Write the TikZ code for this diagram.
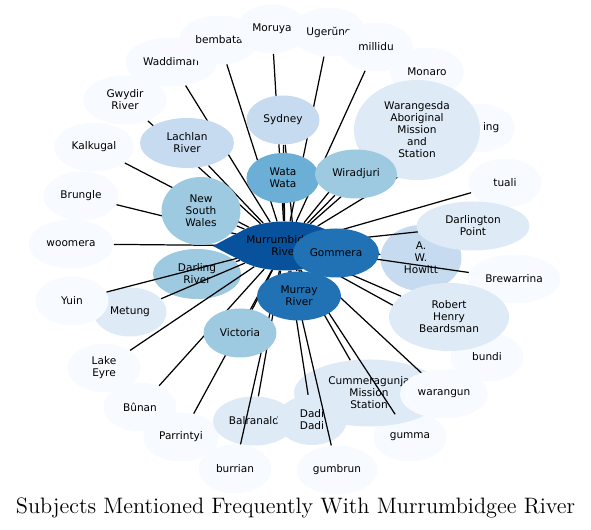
\documentclass[tikz,border=0pt]{standalone}
\usepackage{fontspec}
\usetikzlibrary{shapes.geometric}
\newfontfamily\vfont{DejaVu Sans}
\definecolor{b0}{HTML}{F7FBFF}
\definecolor{b1}{HTML}{DEEBF7}
\definecolor{b2}{HTML}{C6DBEF}
\definecolor{b3}{HTML}{9ECAE1}
\definecolor{b4}{HTML}{6BAED6}
\definecolor{b5}{HTML}{2171B5}
\definecolor{b6}{HTML}{08519C}
\pgfdeclarelayer{front}
\pgfsetlayers{main,front}
\tikzset{
  vx/.style={ellipse,fill=#1,inner sep=0pt,align=center,font=\vfont\fontsize{6}{6.85}\selectfont},
  sz/.style 2 args={minimum width=#1cm,minimum height=#2cm},
  link/.style={line width=0.7pt}
}

\begin{document}
\begin{tikzpicture}
\useasboundingbox (0,0) rectangle (11.820,10.600);
\node[vx=b0,sz={1.840}{0.980}] (waddiman) at (3.420,9.360) {Waddiman};
\node[vx=b0,sz={1.600}{0.980}] (bembata) at (4.380,9.800) {bembata};
\node[vx=b0,sz={1.480}{0.980}] (ugerung) at (6.580,9.960) {Ugerŭng};
\node[vx=b0,sz={1.400}{0.980}] (moruya) at (5.440,10.020) {Moruya};
\node[vx=b0,sz={1.480}{0.980}] (millidu) at (7.520,9.660) {millidu};
\node[vx=b0,sz={1.480}{0.980}] (monaro) at (8.540,9.160) {Monaro};
\node[vx=b0,sz={1.480}{0.980}] (ing) at (9.560,8.040) {\hspace*{15pt}ing};
\node[vx=b0,sz={1.460}{0.980}] (tuali) at (10.100,6.940) {tuali};
\node[vx=b0,sz={1.680}{0.980}] (gwydir) at (2.500,8.600) {Gwydir\\River};
\node[vx=b0,sz={1.600}{0.980}] (kalkugal) at (1.880,7.660) {Kalkugal};
\node[vx=b0,sz={1.500}{0.980}] (brungle) at (1.620,6.680) {Brungle};
\node[vx=b0,sz={1.700}{0.980}] (woomera) at (1.420,5.720) {woomera};
\node[vx=b0,sz={1.460}{0.980}] (lakeeyre) at (2.080,3.240) {Lake\\Eyre};
\node[vx=b0,sz={1.460}{0.980}] (bunan) at (2.800,2.460) {Bûnan};
\node[vx=b0,sz={1.520}{0.980}] (parrintyi) at (3.620,1.860) {Parrintyi};
\node[vx=b0,sz={1.460}{0.980}] (burrian) at (4.700,1.220) {burrian};
\node[vx=b0,sz={1.620}{0.980}] (gumbrun) at (6.740,1.200) {gumbrun};
\node[vx=b0,sz={1.460}{0.980}] (gumma) at (8.200,1.860) {gumma};
\node[vx=b0,sz={1.460}{0.980}] (bundi) at (9.740,3.460) {bundi};
\node[vx=b0,sz={1.860}{0.980}] (brewarrina) at (10.280,5.020) {Brewarrina};
\node[vx=b1,sz={1.460}{0.980}] (metung) at (2.600,4.360) {Metung};
\node[vx=b0,sz={1.460}{0.980}] (yuin) at (1.440,4.580) {Yuin};
\node[vx=b3,sz={1.760}{1.000}] (darling) at (3.940,5.120) {Darling\\River};
\node[vx=b2,sz={1.620}{1.320}] (howitt) at (8.420,5.440) {A.\\W.\\Howitt};
\node[vx=b1,sz={2.260}{0.980}] (darlington) at (9.460,6.080) {Darlington\\Point};
\node[vx=b1,sz={3.000}{1.340}] (cummeragunja) at (7.380,2.740) {Cummeragunja\\Mission\\Station};
\node[vx=b0,sz={1.760}{0.980}] (warangun) at (8.880,2.720) {warangun};
\node[vx=b1,sz={1.640}{0.980}] (balranald) at (5.080,2.180) {Balranald};
\node[vx=b1,sz={1.400}{1.000}] (dadi) at (6.240,2.200) {Dadi\\Dadi};
\begin{pgfonlayer}{front}
\node[vx=b1,sz={2.520}{2.000}] (warangesda) at (8.340,8.000) {Warangesda\\Aboriginal\\Mission\\and\\Station};
\node[vx=b2,sz={1.460}{0.980}] (sydney) at (5.660,8.200) {Sydney};
\node[vx=b4,sz={1.460}{1.000}] (watawata) at (5.660,7.040) {Wata\\Wata};
\node[vx=b3,sz={1.640}{0.980}] (wiradjuri) at (7.120,7.120) {Wiradjuri};
\node[vx=b2,sz={1.880}{1.000}] (lachlan) at (3.740,7.740) {Lachlan\\River};
\node[vx=b3,sz={1.580}{1.360}] (nsw) at (4.020,6.380) {New\\South\\Wales};
\node[vx=b3,sz={1.460}{0.980}] (victoria) at (4.800,3.940) {Victoria};
\node[vx=b1,sz={2.400}{1.360}] (beardsman) at (8.980,4.260) {Robert\\Henry\\Beardsman};
\fill[b6] (4.800,5.960) .. controls (4.560,5.840) .. (4.260,5.680) .. controls (4.560,5.520) .. (4.800,5.400) -- cycle;
\node[vx=b6,sz={2.200}{0.980}] (murrumbidgee) at (5.700,5.680) {Murrumbidgee\\River};
\node[vx=b5,sz={1.720}{0.980}] (gommera) at (6.720,5.540) {Gommera};
\node[vx=b5,sz={1.680}{0.980}] (murray) at (5.980,4.680) {Murray\\River};
\end{pgfonlayer}
\draw[link] (waddiman) -- (murrumbidgee);
\draw[link] (bembata) -- (murrumbidgee);
\draw[link] (ugerung) -- (murrumbidgee);
\draw[link] (moruya) -- (murrumbidgee);
\draw[link] (millidu) -- (murrumbidgee);
\draw[link] (monaro) -- (murrumbidgee);
\draw[link] (ing) -- (murrumbidgee);
\draw[link] (warangesda) -- (murrumbidgee);
\draw[link] (wiradjuri) -- (murrumbidgee);
\draw[link] (sydney) -- (murrumbidgee);
\draw[link] (sydney) -- (murray);
\draw[link] (watawata) -- (murrumbidgee);
\draw[link] (tuali) -- (murrumbidgee);
\draw[link] (darlington) -- (murrumbidgee);
\draw[link] (howitt) -- (murrumbidgee);
\draw[link] (brewarrina) -- (murrumbidgee);
\draw[link] (beardsman) -- (murrumbidgee);
\draw[link] (bundi) -- (murrumbidgee);
\draw[link] (warangun) -- (murrumbidgee);
\draw[link] (cummeragunja) -- (murrumbidgee);
\draw[link] (gumma) -- (murrumbidgee);
\draw[link] (gumbrun) -- (murrumbidgee);
\draw[link] (dadi) -- (murrumbidgee);
\draw[link] (balranald) -- (murrumbidgee);
\draw[link] (burrian) -- (murrumbidgee);
\draw[link] (victoria) -- (murrumbidgee);
\draw[link] (parrintyi) -- (murrumbidgee);
\draw[link] (bunan) -- (murrumbidgee);
\draw[link] (lakeeyre) -- (murrumbidgee);
\draw[link] (metung) -- (murrumbidgee);
\draw[link] (yuin) -- (murrumbidgee);
\draw[link] (darling) -- (murrumbidgee);
\draw[link] (woomera) -- (murrumbidgee);
\draw[link] (nsw) -- (murrumbidgee);
\draw[link] (brungle) -- (murrumbidgee);
\draw[link] (kalkugal) -- (murrumbidgee);
\draw[link] (lachlan) -- (murrumbidgee);
\draw[link] (gwydir) -- (murrumbidgee);
\node[anchor=base,font=\fontsize{12.7}{15}\selectfont] (title) at (5.910,0.320) {Subjects Mentioned Frequently With Murrumbidgee River};
\end{tikzpicture}
\end{document}
